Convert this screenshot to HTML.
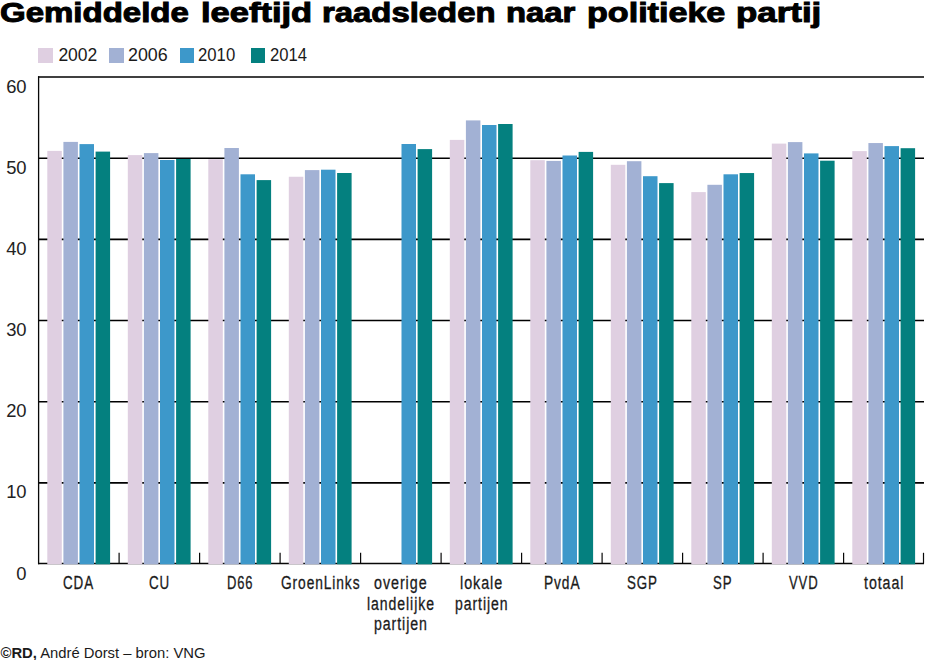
<!DOCTYPE html>
<html><head><meta charset="utf-8">
<style>
html,body{margin:0;padding:0;background:#fff;}
body{width:925px;height:660px;position:relative;overflow:hidden;font-family:"Liberation Sans",sans-serif;color:#1a1a1a;}
.tw{position:absolute;top:-4px;font-weight:bold;font-size:28px;line-height:34px;white-space:nowrap;color:#000;-webkit-text-stroke:1px #000;transform-origin:0 0;}
.lsq{position:absolute;top:48px;width:14.5px;height:14.9px;}
.ltx{position:absolute;transform-origin:0 0;top:45px;font-size:17.5px;line-height:20px;white-space:nowrap;}
.yl{position:absolute;left:0;width:26.6px;text-align:right;font-size:17.5px;line-height:20px;white-space:nowrap;color:#222;transform-origin:100% 0;transform:scaleX(1.05);}
.cl{position:absolute;font-size:18px;line-height:20px;white-space:nowrap;transform-origin:0 0;letter-spacing:1.2px;-webkit-text-stroke:0.3px #1a1a1a;}
#foot{position:absolute;left:0.5px;top:644.5px;font-size:14.8px;line-height:16px;white-space:nowrap;}
svg{position:absolute;left:0;top:0;}
</style></head><body>
<div class="tw" style="left:0.42px;transform:scaleX(1.1786)">Gemiddelde</div><div class="tw" style="left:200.77px;transform:scaleX(1.2318)">leeftijd</div><div class="tw" style="left:321.53px;transform:scaleX(1.1733)">raadsleden</div><div class="tw" style="left:505.83px;transform:scaleX(1.1724)">naar</div><div class="tw" style="left:586.78px;transform:scaleX(1.2179)">politieke</div><div class="tw" style="left:736.05px;transform:scaleX(1.2455)">partij</div>
<div class="lsq" style="left:38.40px;background:#dfcfe1"></div><div class="ltx" id="lt0" style="left:58.40px;transform:scaleX(1.0)">2002</div><div class="lsq" style="left:109.10px;background:#a2b1d4"></div><div class="ltx" id="lt1" style="left:127.90px;transform:scaleX(1.02)">2006</div><div class="lsq" style="left:179.80px;background:#3d98ca"></div><div class="ltx" id="lt2" style="left:198.20px;transform:scaleX(0.955)">2010</div><div class="lsq" style="left:250.50px;background:#04807f"></div><div class="ltx" id="lt3" style="left:269.50px;transform:scaleX(0.95)">2014</div>
<svg width="925" height="660" viewBox="0 0 925 660"><line x1="38" y1="482.84" x2="924" y2="482.84" stroke="#000" stroke-width="1.6"/><line x1="38" y1="401.68" x2="924" y2="401.68" stroke="#000" stroke-width="1.6"/><line x1="38" y1="320.52" x2="924" y2="320.52" stroke="#000" stroke-width="1.6"/><line x1="38" y1="239.36" x2="924" y2="239.36" stroke="#000" stroke-width="1.6"/><line x1="38" y1="158.20" x2="924" y2="158.20" stroke="#000" stroke-width="1.6"/><line x1="38" y1="77.04" x2="924" y2="77.04" stroke="#000" stroke-width="1.6"/><line x1="38.6" y1="76.3" x2="38.6" y2="564.3" stroke="#080808" stroke-width="1.3"/><line x1="38" y1="563.50" x2="924" y2="563.50" stroke="#080808" stroke-width="1.5"/><line x1="119.10" y1="552.8" x2="119.10" y2="563.50" stroke="#080808" stroke-width="1.2"/><line x1="199.60" y1="552.8" x2="199.60" y2="563.50" stroke="#080808" stroke-width="1.2"/><line x1="280.10" y1="552.8" x2="280.10" y2="563.50" stroke="#080808" stroke-width="1.2"/><line x1="360.60" y1="552.8" x2="360.60" y2="563.50" stroke="#080808" stroke-width="1.2"/><line x1="441.10" y1="552.8" x2="441.10" y2="563.50" stroke="#080808" stroke-width="1.2"/><line x1="521.60" y1="552.8" x2="521.60" y2="563.50" stroke="#080808" stroke-width="1.2"/><line x1="602.10" y1="552.8" x2="602.10" y2="563.50" stroke="#080808" stroke-width="1.2"/><line x1="682.60" y1="552.8" x2="682.60" y2="563.50" stroke="#080808" stroke-width="1.2"/><line x1="763.10" y1="552.8" x2="763.10" y2="563.50" stroke="#080808" stroke-width="1.2"/><line x1="843.60" y1="552.8" x2="843.60" y2="563.50" stroke="#080808" stroke-width="1.2"/><line x1="923.50" y1="552.8" x2="923.50" y2="563.50" stroke="#080808" stroke-width="1.2"/><rect x="47.30" y="150.90" width="14.5" height="413.40" fill="#dfcfe1"/><rect x="63.40" y="141.90" width="14.5" height="422.40" fill="#a2b1d4"/><rect x="79.50" y="144.10" width="14.5" height="420.20" fill="#3d98ca"/><rect x="95.60" y="151.60" width="14.5" height="412.70" fill="#04807f"/><rect x="127.80" y="155.10" width="14.5" height="409.20" fill="#dfcfe1"/><rect x="143.90" y="153.10" width="14.5" height="411.20" fill="#a2b1d4"/><rect x="160.00" y="160.00" width="14.5" height="404.30" fill="#3d98ca"/><rect x="176.10" y="159.00" width="14.5" height="405.30" fill="#04807f"/><rect x="208.30" y="159.20" width="14.5" height="405.10" fill="#dfcfe1"/><rect x="224.40" y="148.00" width="14.5" height="416.30" fill="#a2b1d4"/><rect x="240.50" y="174.30" width="14.5" height="390.00" fill="#3d98ca"/><rect x="256.60" y="180.10" width="14.5" height="384.20" fill="#04807f"/><rect x="288.80" y="176.75" width="14.5" height="387.55" fill="#dfcfe1"/><rect x="304.90" y="170.10" width="14.5" height="394.20" fill="#a2b1d4"/><rect x="321.00" y="169.70" width="14.5" height="394.60" fill="#3d98ca"/><rect x="337.10" y="173.00" width="14.5" height="391.30" fill="#04807f"/><rect x="401.50" y="144.00" width="14.5" height="420.30" fill="#3d98ca"/><rect x="417.60" y="149.10" width="14.5" height="415.20" fill="#04807f"/><rect x="449.80" y="139.90" width="14.5" height="424.40" fill="#dfcfe1"/><rect x="465.90" y="120.40" width="14.5" height="443.90" fill="#a2b1d4"/><rect x="482.00" y="125.00" width="14.5" height="439.30" fill="#3d98ca"/><rect x="498.10" y="124.00" width="14.5" height="440.30" fill="#04807f"/><rect x="530.30" y="160.20" width="14.5" height="404.10" fill="#dfcfe1"/><rect x="546.40" y="160.90" width="14.5" height="403.40" fill="#a2b1d4"/><rect x="562.50" y="155.50" width="14.5" height="408.80" fill="#3d98ca"/><rect x="578.60" y="151.90" width="14.5" height="412.40" fill="#04807f"/><rect x="610.80" y="164.80" width="14.5" height="399.50" fill="#dfcfe1"/><rect x="626.90" y="161.20" width="14.5" height="403.10" fill="#a2b1d4"/><rect x="643.00" y="176.20" width="14.5" height="388.10" fill="#3d98ca"/><rect x="659.10" y="183.10" width="14.5" height="381.20" fill="#04807f"/><rect x="691.30" y="192.10" width="14.5" height="372.20" fill="#dfcfe1"/><rect x="707.40" y="184.80" width="14.5" height="379.50" fill="#a2b1d4"/><rect x="723.50" y="174.30" width="14.5" height="390.00" fill="#3d98ca"/><rect x="739.60" y="173.05" width="14.5" height="391.25" fill="#04807f"/><rect x="771.80" y="143.60" width="14.5" height="420.70" fill="#dfcfe1"/><rect x="787.90" y="142.10" width="14.5" height="422.20" fill="#a2b1d4"/><rect x="804.00" y="153.40" width="14.5" height="410.90" fill="#3d98ca"/><rect x="820.10" y="160.70" width="14.5" height="403.60" fill="#04807f"/><rect x="852.30" y="151.10" width="14.5" height="413.20" fill="#dfcfe1"/><rect x="868.40" y="143.05" width="14.5" height="421.25" fill="#a2b1d4"/><rect x="884.50" y="146.10" width="14.5" height="418.20" fill="#3d98ca"/><rect x="900.60" y="148.20" width="14.5" height="416.10" fill="#04807f"/></svg>
<div class="yl" id="yl0" style="top:563.50px">0</div><div class="yl" id="yl1" style="top:482.42px">10</div><div class="yl" id="yl2" style="top:401.34px">20</div><div class="yl" id="yl3" style="top:320.26px">30</div><div class="yl" id="yl4" style="top:239.18px">40</div><div class="yl" id="yl5" style="top:158.10px">50</div><div class="yl" id="yl6" style="top:77.02px">60</div>
<div class="cl" id="cl0" style="left:63.46px;top:573.00px;transform:scaleX(0.7450)">CDA</div><div class="cl" id="cl1" style="left:149.06px;top:573.00px;transform:scaleX(0.7440)">CU</div><div class="cl" id="cl2" style="left:226.98px;top:573.00px;transform:scaleX(0.7206)">D66</div><div class="cl" id="cl3" style="left:280.94px;top:573.00px;transform:scaleX(0.7634)">GroenLinks</div><div class="cl" id="cl4" style="left:374.01px;top:573.00px;transform:scaleX(0.7938)">overige</div><div class="cl" id="cl5" style="left:367.12px;top:593.60px;transform:scaleX(0.7798)">landelijke</div><div class="cl" id="cl6" style="left:374.02px;top:614.20px;transform:scaleX(0.7848)">partijen</div><div class="cl" id="cl7" style="left:460.00px;top:573.00px;transform:scaleX(0.7961)">lokale</div><div class="cl" id="cl8" style="left:454.82px;top:593.60px;transform:scaleX(0.7803)">partijen</div><div class="cl" id="cl9" style="left:543.94px;top:573.00px;transform:scaleX(0.7630)">PvdA</div><div class="cl" id="cl10" style="left:627.06px;top:573.00px;transform:scaleX(0.7410)">SGP</div><div class="cl" id="cl11" style="left:712.77px;top:573.00px;transform:scaleX(0.7333)">SP</div><div class="cl" id="cl12" style="left:788.80px;top:573.00px;transform:scaleX(0.7282)">VVD</div><div class="cl" id="cl13" style="left:864.10px;top:573.00px;transform:scaleX(0.7878)">totaal</div>
<div id="foot"><b>&copy;RD,</b> Andr&eacute; Dorst &ndash; bron: VNG</div>
</body></html>
